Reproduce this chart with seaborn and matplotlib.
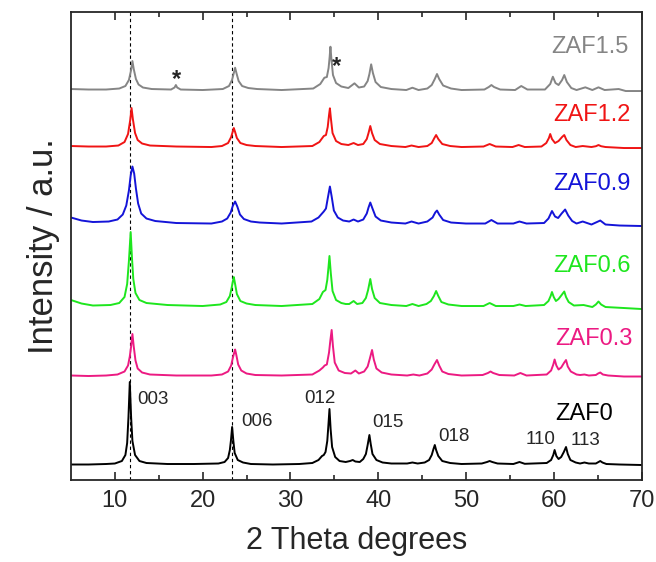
import numpy as np
import pandas as pd
import matplotlib
matplotlib.use('Agg')
import matplotlib.pyplot as plt
from matplotlib import font_manager
import seaborn as sns

# XRD patterns: 2theta and intensity above each baseline (a.u.)
zaf0_x = [5, 7, 9, 10.0, 10.8, 11.2, 11.4, 11.55, 11.7, 11.85,
          12.0, 12.3, 12.8, 13.6, 16, 19, 21.8, 22.5, 22.9, 23.1,
          23.23, 23.36, 23.5, 23.65, 24.0, 24.6, 25.5, 28, 31, 32.5,
          33.2, 33.6, 33.8, 34.0, 34.2, 34.33, 34.45, 34.58, 34.75, 35.1,
          35.6, 36.3, 36.8, 37.1, 37.4, 37.9, 38.3, 38.6, 38.8, 39.0,
          39.15, 39.35, 39.8, 40.5, 41.5, 43.3, 43.9, 44.5, 45.3, 45.8,
          46.1, 46.3, 46.45, 46.6, 46.85, 47.3, 48.2, 49.5, 51.8, 52.4,
          52.7, 53.0, 53.6, 55.4, 56.1, 56.7, 59.2, 59.7, 59.95, 60.1,
          60.3, 60.55, 60.85, 61.15, 61.4, 61.6, 61.9, 62.5, 63.0, 63.5,
          64.0, 64.8, 65.1, 65.3, 65.55, 66.0, 67.5, 70]
zaf0_y = [0.5, 0.5, 1, 1.5, 4, 10, 22, 48, 83, 48,
          24, 10, 4, 2, 1, 1, 1.5, 3, 7, 15,
          25, 38, 24, 12, 5, 2.5, 1, 0.5, 1, 2,
          5, 9, 10, 13, 24, 40, 56, 36, 18, 8,
          4, 3, 4, 5, 3.5, 3, 6, 11, 20, 30,
          21, 11, 5, 2.5, 1.5, 1.5, 2.5, 1.5, 2.5, 5,
          10, 16, 20, 15, 9, 4, 2, 1, 1.5, 3,
          4, 3, 1.5, 1, 3, 1.2, 2, 5, 10, 15,
          9, 6, 8, 13, 18, 11, 5, 2.5, 1.5, 2.5,
          1.5, 1.5, 3, 4, 2.5, 1, 0.5, 0]

zaf03_x = [5, 7, 9, 10.3, 11.1, 11.5, 11.7, 11.85, 12.0, 12.15,
           12.35, 12.6, 13.1, 14.0, 17, 21, 22.2, 22.9, 23.25, 23.45,
           23.6, 23.7, 23.85, 24.05, 24.4, 25.0, 26.0, 29, 32.5, 33.3,
           33.7, 33.9, 34.15, 34.4, 34.55, 34.7, 34.85, 35.05, 35.5, 36.2,
           36.9, 37.4, 37.8, 38.4, 38.8, 39.05, 39.3, 39.5, 39.8, 40.4,
           41.5, 43.3, 44.0, 44.7, 45.6, 46.1, 46.4, 46.7, 46.95, 47.3,
           48.0, 49.5, 51.9, 52.5, 52.8, 53.1, 53.8, 55.5, 56.2, 56.9,
           59.2, 59.7, 59.95, 60.1, 60.3, 60.55, 60.85, 61.2, 61.4, 61.6,
           61.95, 62.6, 63.0, 63.5, 64.0, 64.8, 65.05, 65.3, 65.6, 66.2,
           68, 70]
zaf03_y = [1, 0.5, 1, 2, 5, 11, 20, 30, 42.5, 30,
           16, 8, 4, 2, 1, 1, 2, 5, 11, 19,
           24, 27, 21, 12, 6, 3, 1.5, 1, 2, 6,
           9, 11, 12, 24, 36, 46.5, 30, 14, 6, 3.5,
           3, 6, 3, 5, 10, 18, 26.5, 17, 8, 4,
           2, 1, 2, 1, 3, 7, 12, 16.5, 11, 5,
           2.5, 1, 1.5, 3.5, 5, 3.5, 1.5, 1, 3.5, 1,
           2, 6, 12, 17, 11, 7, 9, 14, 16.5, 10,
           5, 2, 1.5, 2, 1, 1.5, 3, 4, 2, 1,
           0, 0]

zaf06_x = [5, 6.2, 7.5, 9.5, 10.5, 11.1, 11.4, 11.6, 11.8, 11.95,
           12.1, 12.35, 12.8, 13.6, 16, 20, 22.0, 22.7, 23.1, 23.3,
           23.45, 23.55, 23.7, 23.9, 24.3, 25.0, 26.0, 29, 32.5, 33.3,
           33.7, 34.0, 34.2, 34.33, 34.45, 34.6, 34.8, 35.2, 35.8, 36.3,
           36.7, 37.2, 37.6, 38.2, 38.6, 38.85, 39.1, 39.3, 39.6, 40.2,
           41.5, 43.2, 43.9, 44.6, 45.5, 46.0, 46.35, 46.6, 46.85, 47.2,
           48.0, 49.5, 52.0, 52.7, 53.4, 55.4, 56.1, 56.8, 58.9, 59.4,
           59.65, 59.8, 60.0, 60.25, 60.55, 60.9, 61.2, 61.4, 61.7, 62.3,
           63.4, 64.4, 64.8, 65.1, 65.4, 65.9, 68, 70]
zaf06_y = [6, 2.5, 0.5, 1, 3, 9, 22, 45, 74, 48,
           27, 13, 6, 3, 1, 0, 1.5, 4, 10, 18,
           25, 29, 22, 12, 5, 2.5, 1, 0, 2, 7,
           14, 16, 26, 38, 50, 33, 15, 6, 3, 2,
           2, 5, 2, 3, 8, 16, 27, 17, 8, 3,
           1, 0, 2, 0, 2, 5, 10, 15, 10, 4,
           1.5, 0, 0, 3, 0, 0, 1.5, 0, 1, 5,
           10, 14, 9, 5, 7, 11, 14.5, 9, 4, 0.5,
           1, -1, 1.5, 4.5, 1.5, -1, -2, -3]

zaf09_x = [5, 6.2, 7.5, 9.3, 10.3, 10.9, 11.3, 11.6, 11.8, 12.0,
           12.2, 12.4, 12.65, 13.0, 13.6, 14.6, 17, 21, 22.2, 22.8,
           23.2, 23.45, 23.7, 23.95, 24.25, 24.7, 25.5, 26.5, 29, 32.4,
           33.2, 33.8, 34.05, 34.25, 34.5, 34.7, 34.95, 35.4, 36.0, 36.7,
           37.2, 37.7, 38.3, 38.7, 38.9, 39.1, 39.35, 39.7, 40.3, 41.5,
           43.1, 43.8, 44.6, 45.6, 46.2, 46.5, 46.7, 46.95, 47.4, 48.3,
           50, 52.2, 52.9, 53.6, 55.4, 56.1, 56.9, 58.9, 59.4, 59.8,
           60.15, 60.5, 60.9, 61.3, 61.65, 62.1, 62.6, 63.3, 64.3, 65.3,
           65.9, 67.5, 70]
zaf09_y = [6, 3, 1.5, 2, 4, 9, 18, 33, 48, 57,
           50, 35, 20, 10, 5, 2.5, 0.5, 0, 2, 5,
           11, 18, 22, 17, 9, 4.5, 2, 1, 0, 2,
           6, 12, 15, 25, 37, 27, 13, 6, 3, 2,
           4, 2, 4, 10, 16, 21, 15, 7, 3, 1,
           0, 2, 0, 2, 6, 11, 13, 9, 3.5, 1,
           0, 0, 3.5, 0, 0, 2, 0, 0.5, 5, 12.5,
           7, 5.5, 10, 14, 8, 2.5, 0, 2, -1, 3,
           -1, -2, -2.5]

zaf12_x = [5, 7, 9, 10.4, 11.1, 11.5, 11.75, 11.9, 12.05, 12.3,
           12.6, 13.1, 14.0, 17, 21, 22.2, 22.9, 23.25, 23.45, 23.55,
           23.7, 23.9, 24.3, 25.0, 26.0, 29, 32.5, 33.3, 33.8, 34.05,
           34.25, 34.4, 34.5, 34.62, 34.8, 35.2, 35.8, 36.6, 37.2, 37.7,
           38.3, 38.7, 38.9, 39.1, 39.3, 39.6, 40.2, 41.5, 43.1, 43.8,
           44.6, 45.6, 46.1, 46.4, 46.6, 46.85, 47.3, 48.2, 49.5, 52.0,
           52.7, 53.4, 55.3, 56.0, 56.7, 58.6, 59.15, 59.45, 59.6, 59.8,
           60.15, 60.55, 60.95, 61.2, 61.45, 61.9, 62.5, 63.3, 64.3, 64.8,
           65.1, 65.4, 65.9, 68, 70]
zaf12_y = [1, 0.5, 0.5, 1.5, 5, 13, 27, 39, 28, 14,
           7, 3.5, 1.5, 0.5, 0, 1, 4, 10, 16, 19,
           15, 9, 4, 2, 1, 0, 1, 5, 11, 12,
           20, 32, 38.7, 28, 14, 6, 3, 2, 4, 2,
           3, 8, 14, 21, 14, 7, 3, 1, 0, 1.5,
           0, 1, 4, 9, 12, 8, 3, 1, 0, 0.5,
           3, 0.5, 0, 2, 0, 0.5, 4, 9, 13, 8,
           4, 6, 10, 12, 7, 2, 0, 1, 0, 0.8,
           2, 0.8, 0, -1, -1]

zaf15_x = [5, 7, 9, 10.5, 11.2, 11.6, 11.85, 12.0, 12.15, 12.4,
           12.7, 13.2, 14.2, 16.4, 16.8, 16.95, 17.1, 17.5, 20, 22.3,
           23.0, 23.35, 23.55, 23.7, 23.85, 24.1, 24.5, 25.2, 26.2, 29,
           32.6, 33.4, 33.87, 34.15, 34.35, 34.47, 34.56, 34.68, 34.85, 35.2,
           35.8, 36.6, 37.3, 37.8, 38.4, 38.8, 39.0, 39.2, 39.4, 39.7,
           40.3, 41.5, 43.2, 43.9, 44.6, 45.6, 46.1, 46.45, 46.7, 46.95,
           47.4, 48.3, 49.5, 52.1, 52.6, 52.9, 53.2, 53.9, 55.6, 56.3,
           57.0, 59.0, 59.6, 59.9, 60.2, 60.55, 60.95, 61.2, 61.5, 62.0,
           62.6, 63.6, 64.4, 65.1, 65.8, 67.4, 68.2, 70]
zaf15_y = [1, 0.5, 0.5, 1.5, 4, 10, 20, 29, 21, 11,
           5.5, 2.5, 1, 0.5, 2.5, 5, 2.5, 0.5, 0, 1,
           4, 10, 17, 22.3, 17, 9, 4, 2, 1, 0,
           1.5, 6, 12.3, 13, 22, 33, 43.3, 30, 15, 7,
           3.5, 2, 6.7, 2.5, 3.5, 9, 16, 25.7, 17, 8,
           3, 1, 0, 2.3, 0, 1.5, 5, 11, 16, 11,
           4.5, 1.5, 0, 0.5, 3, 5, 3, 0.5, 0, 4,
           0.5, 0.5, 6, 13.3, 7, 5, 10, 15, 8, 2,
           0, 2.7, 0, 2.7, 0, 1, -1, -1]

samples = ['ZAF0', 'ZAF0.3', 'ZAF0.6', 'ZAF0.9', 'ZAF1.2', 'ZAF1.5']
baselines = [15, 103.5, 174, 256.5, 333, 390]
colors = ['#000000', '#ec1a82', '#1ee61e', '#1414d8', '#f01414', '#858585']

hkl = ['003', '006', '012', '015', '018', '110', '113']
dashed_at = [11.7, 23.4]

xs_all = [zaf0_x, zaf03_x, zaf06_x, zaf09_x, zaf12_x, zaf15_x]
ys_all = [zaf0_y, zaf03_y, zaf06_y, zaf09_y, zaf12_y, zaf15_y]
frames = []
for name, xs, ys, base in zip(samples, xs_all, ys_all, baselines):
    frames.append(pd.DataFrame({'two_theta': xs, 'intensity': np.array(ys) + base, 'sample': name}))
df = pd.concat(frames, ignore_index=True)

sns.set_style('ticks')
plt.rcParams['font.family'] = ['Liberation Sans', 'DejaVu Sans']

# the axis text in the original is tall and narrow
installed = {f.name for f in font_manager.fontManager.ttflist}
if 'Liberation Sans Narrow' in installed:
    axis_font = ['Liberation Sans Narrow', 'Liberation Sans']
    tick_size, xlab_size, ylab_size = 20, 26, 29
else:
    axis_font = ['Liberation Sans', 'DejaVu Sans']
    tick_size, xlab_size, ylab_size = 17, 22, 25

fig = plt.figure(figsize=(6.56, 5.62), dpi=100)
ax = fig.add_axes([0.1082, 0.1459, 0.8697, 0.8327])

for xv in dashed_at:
    ax.axvline(xv, color='black', lw=0.8, ls=(0, (3, 2.5)), zorder=1)

sns.lineplot(data=df, x='two_theta', y='intensity', hue='sample', hue_order=samples,
             palette=dict(zip(samples, colors)), sort=False, estimator=None,
             legend=False, lw=1.4, ax=ax, zorder=2)

# sample names
label_pos = [(63.5, 66), (64.6, 141), (64.4, 214), (64.4, 296), (64.4, 365), (64.1, 433)]
for name, c, (lx, ly) in zip(samples, colors, label_pos):
    ax.text(lx, ly, name, color=c, fontsize=17, ha='center', va='center')

# reflections of ZAF0
hkl_pos = [(12.5, 80.7, 'left'), (24.35, 58.3, 'left'), (33.4, 81.2, 'center'), (39.33, 58, 'left'),
           (46.8, 43.5, 'left'), (56.8, 40.5, 'left'), (61.9, 40, 'left')]
for t, (hx, hy, ha) in zip(hkl, hkl_pos):
    ax.text(hx, hy, t, fontsize=13.5, ha=ha, va='center')

ax.text(17.03, 401, '*', fontsize=17, fontweight='bold', ha='center', va='center')
ax.text(35.3, 414, '*', fontsize=17, fontweight='bold', ha='center', va='center')

ax.set_xlim(5, 70)
ax.set_ylim(0, 468)
ax.set_xticks([10, 20, 30, 40, 50, 60, 70])
ax.set_xticks([15, 25, 35, 45, 55, 65], minor=True)
ax.set_yticks([])
ax.tick_params(axis='x', which='both', direction='in', top=True, width=1.2, pad=7)
ax.tick_params(axis='x', which='major', length=6)
ax.tick_params(axis='x', which='minor', length=3.5)
for lab in ax.get_xticklabels():
    lab.set_family(axis_font)
    lab.set_fontsize(tick_size)
for s in ax.spines.values():
    s.set_linewidth(1.3)
    s.set_visible(True)
ax.set_xlabel('2 Theta degrees', fontsize=xlab_size, family=axis_font, labelpad=10)
ax.set_ylabel('Intensity / a.u.', fontsize=ylab_size, family=axis_font, labelpad=8)

fig.savefig('out.png', dpi=100)
